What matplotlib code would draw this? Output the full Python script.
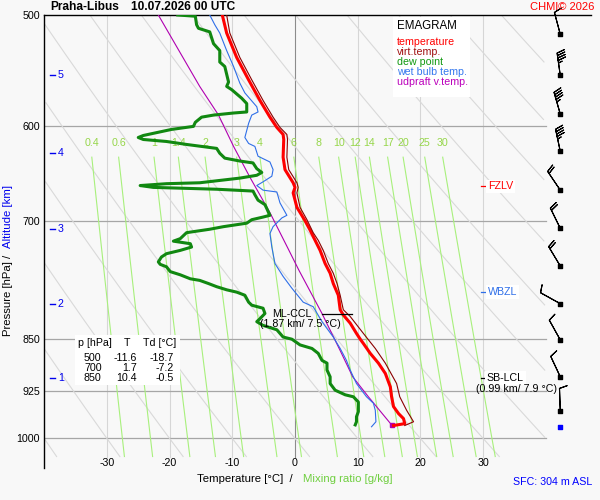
import numpy as np
import matplotlib
matplotlib.use('Agg')
import matplotlib.pyplot as plt
from matplotlib.patches import Rectangle
from matplotlib.transforms import blended_transform_factory

plt.rcParams['font.family'] = ['Liberation Sans', 'DejaVu Sans']

station = 'Praha-Libus'
valid_time = '10.07.2026 00 UTC'

# profiles (hPa / degC), top to bottom
temp_p = [500, 515, 536, 556, 575, 591, 601, 608, 613, 631, 644, 658, 663, 669, 685,
          699, 711, 723, 735, 751, 763, 776, 791, 810, 817, 828, 842, 850, 856, 870,
          884, 899, 919, 934, 949, 960, 968, 976, 979]
temp_c = [-11.6, -10.9, -9.3, -7.4, -5.6, -4.0, -2.9, -1.9, -1.8, -1.9, -1.6, -0.3, 0.0, -0.3, 0.3,
          1.5, 2.4, 3.2, 4.0, 4.8, 5.6, 6.1, 6.9, 7.2, 7.7, 8.8, 9.8, 10.4, 10.9, 12.0,
          13.3, 14.4, 15.2, 15.4, 15.7, 16.5, 17.3, 17.5, 15.7]

virt_p = [500, 515, 536, 556, 575, 591, 601, 608, 613, 631, 644, 658, 663, 669, 685,
          699, 714, 723, 735, 751, 763, 776, 791, 810, 819, 842, 863, 884, 914, 934,
          955, 973, 979]
virt_c = [-10.9, -10.4, -8.8, -6.9, -5.1, -3.5, -2.4, -1.3, -1.2, -1.3, -1.0, 0.3, 0.5, 0.3, 0.8,
          1.9, 2.9, 3.7, 4.5, 5.3, 6.1, 6.7, 7.2, 7.7, 8.8, 10.9, 12.8, 14.4, 16.2, 16.7,
          17.8, 18.9, 17.5]

dew_p = [500, 501, 508, 511, 514, 524, 530, 540, 544, 558, 562, 565, 573, 578, 586,
         587, 589, 591, 596, 600, 603, 609, 611, 613, 615, 618, 622, 627, 632, 635,
         637, 643, 647, 650, 653, 658, 659, 661, 663, 665, 667, 671, 677, 682, 694,
         696, 699, 703, 707, 710, 714, 721, 724, 727, 731, 735, 739, 743, 749, 752,
         755, 761, 765, 770, 772, 776, 780, 784, 787, 791, 800, 804, 808, 815, 822,
         826, 831, 837, 847, 850, 858, 863, 870, 880, 884, 894, 904, 914, 924, 931,
         934, 942, 957, 965, 973, 978]
dew_c = [-18.7, -15.9, -15.7, -15.4, -13.6, -13.0, -12.0, -12.0, -11.2, -10.6, -10.9, -10.1, -8.5, -7.7, -7.7,
         -9.8, -13.0, -14.9, -15.9, -16.2, -19.7, -24.2, -25.0, -24.2, -20.5, -17.3, -12.5, -12.0, -11.2, -8.8,
         -6.7, -6.1, -5.3, -6.1, -8.8, -15.2, -20.5, -24.7, -22.6, -12.5, -6.7, -6.4, -5.9, -4.8, -4.0,
         -5.1, -6.9, -7.7, -11.4, -13.6, -17.3, -18.3, -19.4, -16.7, -16.5, -18.3, -20.5, -21.3, -21.8, -21.5,
         -20.5, -19.9, -18.3, -16.7, -15.2, -13.8, -12.5, -10.9, -9.3, -8.0, -7.4, -6.9, -5.1, -4.8, -5.6,
         -6.1, -5.1, -2.9, -1.9, -0.5, 0.8, 2.7, 3.7, 4.3, 5.1, 5.1, 5.6, 5.6, 6.4, 8.0,
         9.3, 10.1, 10.1, 9.8, 9.8, 9.6]

wet_p = [500, 508, 515, 530, 544, 559, 568, 581, 586, 589, 597, 604, 611, 617, 620,
         630, 636, 644, 651, 657, 661, 666, 668, 680, 694, 697, 707, 715, 731, 751,
         767, 782, 800, 806, 826, 847, 863, 880, 894, 914, 934, 944, 955, 973, 981]
wet_c = [-13.6, -12.8, -12.0, -10.9, -9.8, -8.8, -8.0, -6.1, -5.9, -6.9, -7.4, -7.7, -8.0, -7.4, -6.4,
         -5.9, -4.0, -3.5, -3.7, -5.1, -6.1, -5.1, -2.9, -2.4, -1.3, -2.1, -3.5, -4.0, -3.7, -3.2,
         -1.9, -0.5, 1.3, 2.9, 4.3, 6.1, 7.2, 8.2, 8.8, 9.8, 11.4, 12.5, 12.8, 12.9, 12.2]

upd_p = [500, 532, 562, 589, 620, 652, 691, 733, 759, 815, 866, 904, 934, 978]
upd_c = [-21.8, -18.3, -15.2, -12.2, -9.8, -7.2, -4.0, -1.1, 0.6, 4.3, 7.2, 9.2, 11.7, 15.4]

# winds, every 0.5 km
barb_p = [516, 552, 588, 625, 666, 709, 754, 802, 851, 904, 956]
barb_dir = [345, 352, 344, 348, 326, 334, 329, 299, 331, 335, 358]
barb_kt = [10, 45, 45, 45, 20, 20, 20, 10, 10, 10, 10]
sfc_p = 981

alt_km = [1, 2, 3, 4, 5]
alt_p = [906, 802, 710, 627, 552]

table_p = [500, 700, 850]
table_t = [-11.6, 1.7, 10.4]
table_td = [-18.7, -7.2, -0.5]

isobars = [600, 700, 850, 925, 1000]
isotherms = [-30, -20, -10, 0, 10, 20, 30]
theta_c = list(range(-40, 101, 10))
mix_w = [0.4, 0.6, 1, 1.4, 2, 3, 4, 6, 8, 10, 12, 14, 17, 20, 25, 30]

fzlv_p = 662
wbzl_p = 787
sblcl_p = 906
mlccl_p = 815
mlccl_t = [4.3, 9.1]

BG = '#f8f8f8'
W, H = 600, 500
FS = 7.7   # small text


def fxy(x, y):
    return x / W, 1 - y / H


def td_from_w(w, p):
    e = w * p / (622.0 + w)
    a = np.log(e / 6.112)
    return 243.5 * a / (17.67 - a)


fig = plt.figure(figsize=(6, 5), dpi=100, facecolor=BG)
ax = fig.add_axes([44.2 / W, 32 / H, (591 - 44.2) / W, 453 / H])
ax.set_facecolor(BG)
ax.set_yscale('log')
ax.set_ylim(1049.5, 500)
ax.set_xlim(-40, 47.2)
for s in ['right', 'bottom']:
    ax.spines[s].set_visible(False)
for s in ['top', 'left']:
    ax.spines[s].set_linewidth(1.0)
ax.set_xticks([])
ax.set_yticks(isobars + [500])
ax.set_yticklabels([str(p) for p in isobars + [500]])
ax.minorticks_off()
ax.tick_params(axis='y', length=0, pad=3, labelsize=FS)

# background grid
pp = np.linspace(500, 1030, 200)
for t in isotherms:
    ax.plot([t, t], [500, 1030], color='#8c8c8c' if t == 0 else '#d6d6d6', lw=0.8, zorder=1)
for p in isobars:
    ax.plot([-40, 40], [p, p], color='#a6a6a6', lw=0.9, zorder=1)
for th in theta_c:
    tt = (th + 273.15) * (pp / 1000.0) ** 0.286 - 273.15
    tt = np.where((tt >= -40) & (tt <= 40), tt, np.nan)
    ax.plot(tt, pp, color='#d9d9d9', lw=0.8, zorder=1)
pw = np.linspace(631, 1030, 50)
for w in mix_w:
    ax.plot(td_from_w(w, pw), pw, color='#a8f07c', lw=0.8, zorder=1)
    ax.text(td_from_w(w, 631), 617, f'{w:g}', color='#96d64a', fontsize=FS,
            ha='center', va='center', zorder=2)

# profiles
ax.plot(upd_c, upd_p, color='#b000b0', lw=0.8, zorder=3)
ax.plot(upd_c[-1], upd_p[-1], 's', color='#b000b0', ms=2.5, zorder=3)
ax.plot(wet_c, wet_p, color='#2f6fe8', lw=0.8, zorder=3)
ax.plot(dew_c, dew_p, color='#118811', lw=2.2, zorder=4)
ax.plot(temp_c, temp_p, color='#ff0000', lw=2.2, zorder=4)
ax.plot(virt_c, virt_p, color='#8b0000', lw=0.8, zorder=5)

# altitude marks
for km, p in zip(alt_km, alt_p):
    ax.plot([-39.1, -38.2], [p, p], color='#0000ee', lw=1, zorder=3)
    ax.text(-37.8, p, str(km), color='#0000ee', fontsize=FS, ha='left', va='center')

# levels
box = dict(facecolor='white', edgecolor='none', pad=1.2)
ax.plot([29.6, 30.3], [fzlv_p] * 2, color='red', lw=0.9)
ax.text(30.8, fzlv_p, 'FZLV', color='red', fontsize=FS, va='center', ha='left', bbox=box)
ax.plot([29.6, 30.3], [wbzl_p] * 2, color='#2f6fe8', lw=0.9)
ax.text(30.8, wbzl_p, 'WBZL', color='#2f6fe8', fontsize=FS, va='center', ha='left', bbox=box)
ax.plot([29.6, 30.3], [sblcl_p] * 2, color='black', lw=0.9)
ax.text(30.6, sblcl_p, 'SB-LCL', color='black', fontsize=FS, va='center', ha='left', bbox=box)
ax.text(28.9, 921.7, '(0.99 km/ 7.9 °C)', color='black', fontsize=FS, va='center', ha='left')
ax.plot(mlccl_t, [mlccl_p] * 2, color='black', lw=0.9, zorder=5)
ax.text(2.7, mlccl_p, 'ML-CCL', color='black', fontsize=FS, va='center', ha='right', zorder=6)
ax.text(0.9, 829.5, '(1.87 km/ 7.5 °C)', color='black', fontsize=FS, va='center', ha='center',
        zorder=6)

# wind barbs
bx = [42.3] * len(barb_p)
rad = np.deg2rad(barb_dir)
u = -np.array(barb_kt) * np.sin(rad)
v = -np.array(barb_kt) * np.cos(rad)
ax.barbs(bx, barb_p, u, v, length=5.7, color='black', linewidth=0.8, clip_on=False,
         sizes=dict(height=0.34, spacing=0.11, width=0.22), zorder=6)
ax.scatter(bx, barb_p, marker='s', s=5, color='black', zorder=7, clip_on=False)
ax.scatter([42.3], [sfc_p], marker='s', s=5, color='#0000ff', zorder=7, clip_on=False)

# x tick labels inside the frame
bt = blended_transform_factory(ax.transData, fig.transFigure)
for t in isotherms:
    ax.text(t, 1 - 463 / H, str(t), transform=bt, fontsize=FS, ha='center', va='center')

# legend box
fig.add_artist(Rectangle(fxy(393, 97), 77 / W, 80 / H, transform=fig.transFigure,
                         facecolor='white', edgecolor='none', zorder=2))
fig.text(*fxy(397, 26), 'EMAGRAM', fontsize=8.3, va='center', zorder=3)
leg = [('temperature', '#ff0000'), ('virt.temp.', '#a01010'), ('dew point', '#119911'),
       ('wet bulb temp.', '#3377ee'), ('udpraft v.temp.', '#bb00bb')]
for i, (lab, col) in enumerate(leg):
    fig.text(*fxy(397, 42 + 10 * i), lab, color=col, fontsize=FS, va='center', zorder=3)

# table box
fig.add_artist(Rectangle(fxy(75, 385), 105 / W, 50 / H, transform=fig.transFigure,
                         facecolor='white', edgecolor='none', zorder=2))
fig.text(*fxy(78.3, 343.3), 'p [hPa]', fontsize=FS, va='center', zorder=3)
fig.text(*fxy(127.5, 343.3), 'T', fontsize=FS, va='center', ha='center', zorder=3)
fig.text(*fxy(143.3, 343.3), 'Td [°C]', fontsize=FS, va='center', zorder=3)
for i, (p, t, td) in enumerate(zip(table_p, table_t, table_td)):
    y = 358.3 + 10 * i
    fig.text(*fxy(101.7, y), str(p), fontsize=FS, va='center', ha='right', zorder=3)
    fig.text(*fxy(136.7, y), f'{t:.1f}', fontsize=FS, va='center', ha='right', zorder=3)
    fig.text(*fxy(173.3, y), f'{td:.1f}', fontsize=FS, va='center', ha='right', zorder=3)

# titles and axis labels
fig.text(*fxy(50, 7.5), station, fontsize=8.6, weight='bold', va='center')
fig.text(*fxy(131, 7.5), valid_time, fontsize=8.6, weight='bold', va='center')
fig.text(*fxy(530, 7), 'CHMI© 2026', fontsize=8, color='red', va='center')
fig.text(*fxy(197, 479), 'Temperature [°C]  /', fontsize=8.2, va='center')
fig.text(*fxy(302.7, 479), 'Mixing ratio [g/kg]', fontsize=8.2, color='#6fcf3f', va='center')
fig.text(*fxy(8, 298.5), 'Pressure [hPa]', fontsize=8.2, rotation=90, ha='center', va='center')
fig.text(*fxy(8, 256), '/', fontsize=8.2, rotation=90, ha='center', va='center')
fig.text(*fxy(8, 217), 'Altitude [km]', fontsize=8.2, rotation=90, ha='center', va='center',
         color='#0000ee')
fig.text(*fxy(512.7, 481.7), 'SFC: 304 m ASL', fontsize=FS, color='#0000ff', va='center')

fig.savefig('out.png', dpi=100, facecolor=BG)
